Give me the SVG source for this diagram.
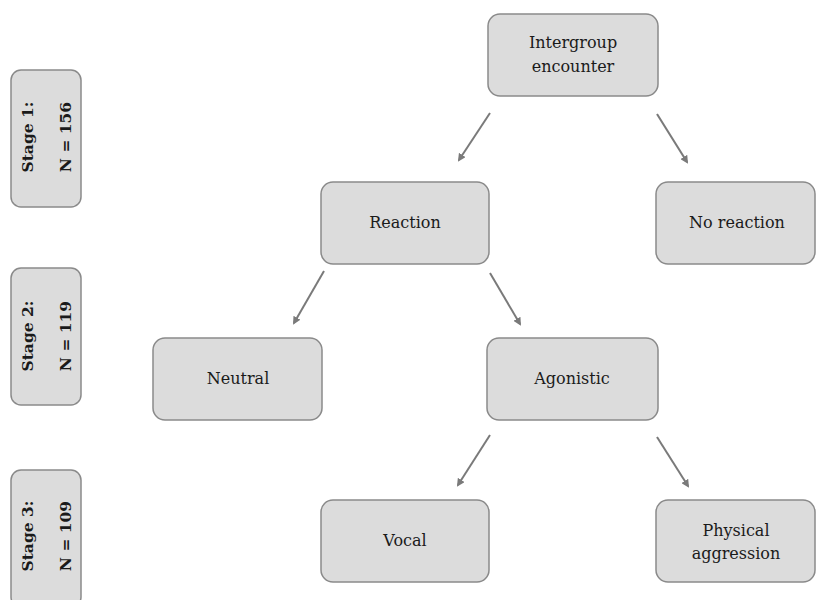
<svg xmlns="http://www.w3.org/2000/svg" width="816" height="600" viewBox="0 0 816 600">
<style>
.box{fill:#dcdcdc;stroke:#8a8a8a;stroke-width:1.5}
.t{font-family:"DejaVu Serif","Liberation Serif",serif;font-size:16px;fill:#1a1a1a;text-anchor:middle}
.s{font-family:"DejaVu Serif","Liberation Serif",serif;font-size:15.5px;font-weight:bold;fill:#1a1a1a;text-anchor:middle}
.c{stroke:#7a7a7a;stroke-width:2;fill:none;marker-end:url(#ah)}
</style>
<defs>
<marker id="ah" markerWidth="8" markerHeight="8" refX="6" refY="4" orient="auto" markerUnits="userSpaceOnUse">
<path d="M0,0 L8,4 L0,8 Z" fill="#7a7a7a"/>
</marker>
</defs>
<rect width="816" height="600" fill="#fff"/>
<g id="stage1"><rect class="box" x="11" y="70" width="70" height="137" rx="10"/>
<text class="s" transform="translate(33,137) rotate(-90)">Stage 1:</text>
<text class="s" transform="translate(71,137) rotate(-90)">N = 156</text></g>
<g id="stage2"><rect class="box" x="11" y="268" width="70" height="137" rx="10"/>
<text class="s" transform="translate(33,336) rotate(-90)">Stage 2:</text>
<text class="s" transform="translate(71,336) rotate(-90)">N = 119</text></g>
<g id="stage3"><rect class="box" x="11" y="470" width="70" height="137" rx="10"/>
<text class="s" transform="translate(33,536) rotate(-90)">Stage 3:</text>
<text class="s" transform="translate(71,536) rotate(-90)">N = 109</text></g>

<g id="intergroup"><rect class="box" x="488" y="14" width="170" height="82" rx="12"/>
<text class="t" x="573" y="48">Intergroup</text><text class="t" x="573" y="72">encounter</text></g>
<g id="reaction"><rect class="box" x="321" y="182" width="168" height="82" rx="12"/>
<text class="t" x="405" y="228">Reaction</text></g>
<g id="noreaction"><rect class="box" x="656" y="182" width="159" height="82" rx="12"/>
<text class="t" x="737" y="228">No reaction</text></g>
<g id="neutral"><rect class="box" x="153" y="338" width="169" height="82" rx="12"/>
<text class="t" x="238" y="384">Neutral</text></g>
<g id="agonistic"><rect class="box" x="487" y="338" width="171" height="82" rx="12"/>
<text class="t" x="572" y="384">Agonistic</text></g>
<g id="vocal"><rect class="box" x="321" y="500" width="168" height="82" rx="12"/>
<text class="t" x="405" y="546">Vocal</text></g>
<g id="physical"><rect class="box" x="656" y="500" width="159" height="82" rx="12"/>
<text class="t" x="736" y="536">Physical</text><text class="t" x="736" y="559">aggression</text></g>

<g id="connectors">
<line class="c" x1="490" y1="113" x2="459" y2="160"/>
<line class="c" x1="657" y1="114" x2="687" y2="162"/>
<line class="c" x1="324" y1="271" x2="294" y2="323"/>
<line class="c" x1="490" y1="273" x2="520" y2="324"/>
<line class="c" x1="490" y1="435" x2="458" y2="485"/>
<line class="c" x1="657" y1="437" x2="688" y2="486"/>
</g>
</svg>
